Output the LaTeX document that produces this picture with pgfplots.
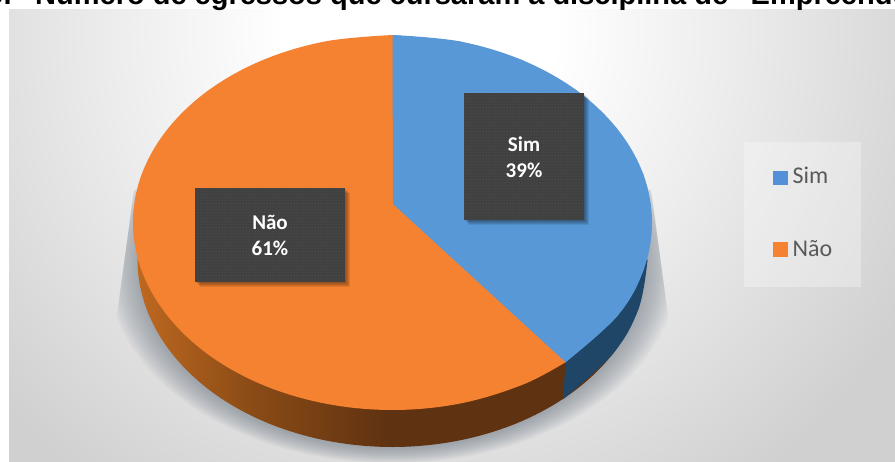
\documentclass[border=0pt]{standalone}
\usepackage{fontspec}
\setmainfont{Liberation Sans}
\newfontfamily\labelfont{Carlito}
\usepackage{pgfplots}
\usepackage{pgfplotstable}
\pgfplotsset{compat=1.18}
\usetikzlibrary{patterns}

\definecolor{simtop}{HTML}{5898D6}
\definecolor{naotop}{HTML}{F58230}
\definecolor{simside}{HTML}{1F4567}
\definecolor{boxdark}{HTML}{404040}
\definecolor{shadowtone}{HTML}{6C7884}
\definecolor{legendtext}{HTML}{595959}
\definecolor{naoS0}{HTML}{BE6820}
\definecolor{naoS1}{HTML}{8C4C16}
\definecolor{naoS2}{HTML}{5F3211}
\definecolor{backA}{HTML}{FFFFFF}
\definecolor{backB}{HTML}{ECECEC}
\definecolor{backC}{HTML}{D0D0D0}

\pgfdeclareradialshading{chartback}{\pgfpointorigin}{%
  color(0bp)=(backA); color(4.8bp)=(backA); color(11.2bp)=(backB);
  color(20bp)=(backC); color(50bp)=(backC)}
\pgfdeclarehorizontalshading{naoside}{100bp}{%
  color(0bp)=(naoS0); color(25bp)=(naoS0); color(36bp)=(naoS1);
  color(50bp)=(naoS2); color(100bp)=(naoS2)}

% Top face of the pie, cut at the 39 % share
\pgfplotstableread{
x y
393.0 204.0
392.5 35.0
459.7 41.4
522.2 60.1
576.0 89.9
617.2 128.8
643.2 174.0
652.0 222.5
643.2 271.0
617.2 316.2
565.6 362.2
}\simwedge
\pgfplotstableread{
x y
392.5 35.0
459.7 41.4
522.2 60.1
576.0 89.9
617.2 128.8
643.2 174.0
652.0 222.5
643.2 271.0
617.2 316.2
565.6 362.2
}\simarc
\pgfplotstableread{
x y
565.6 362.2
522.2 384.9
459.7 403.6
392.5 410.0
325.3 403.6
262.7 384.9
209.0 355.1
167.8 316.2
141.8 271.0
133.0 222.5
141.8 174.0
167.8 128.8
209.0 89.9
262.7 60.1
325.3 41.4
392.5 35.0
}\naoface
% Rim below the top face
\pgfplotstableread{
x y
638.8 308.0
613.3 353.2
572.8 392.1
520.0 421.9
458.5 440.6
392.5 447.0
326.5 440.6
265.0 421.9
212.2 392.1
171.7 353.2
146.2 308.0
137.5 259.5
146.2 211.0
171.7 165.8
}\naorim
\pgfplotstableread{
x y
647.5 259.5
638.8 308.0
613.3 353.2
563.0 399.2
}\simrimarc
\pgfplotstableread{
x y
565.6 362.2
563.0 399.2
613.3 353.2
638.8 308.0
647.5 259.5
600.0 280.0
}\simrim

\begin{document}
\begin{tikzpicture}[x=1pt,y=-1pt]
  \path[use as bounding box,clip] (0,0) rectangle (895,462);

  % chart area
  \begin{scope}
    \clip (9,9.5) rectangle (895,462);
    \shade[shading=chartback] (420,30) circle[radius=700];
  \end{scope}

  % soft shadow under the disc, widening downwards
  \begin{scope}
    \clip (134,190) -- (651,190) -- (670,330) -- (710,462) -- (80,462) -- (115,330) -- cycle;
    \foreach \d in {0,2,...,30}{
      \fill[shadowtone,opacity=0.042] (392.5,262+0.16*\d)
        ellipse[x radius=256+\d, y radius=187+0.32*\d];
    }
  \end{scope}

  % legend panel
  \fill[white,opacity=0.3] (744,142) rectangle (861,287);

  \begin{axis}[
    at={(0,0)},anchor=north west,
    scale only axis,width=895pt,height=462pt,
    xmin=0,xmax=895,ymin=0,ymax=462,y dir=reverse,
    hide axis]
    \addplot[draw=none,shading=naoside,smooth,tension=0.6] table {\naorim};
    \addplot[draw=none,fill=simside,smooth,tension=0.6] table {\simrimarc};
    \addplot[draw=none,fill=simside] table {\simrim};
    \addplot[draw=none,fill=naotop,smooth,tension=0.6] table {\naoface};
    \addplot[draw=none,fill=simtop,smooth,tension=0.6] table {\simarc};
    \addplot[draw=none,fill=simtop] table {\simwedge};
    \addplot[only marks,mark=square*,mark size=6.8pt,color=simtop!95!blue]
      coordinates {(780,177.5)};
    \addplot[only marks,mark=square*,mark size=7pt,color=naotop]
      coordinates {(780,249.5)};
  \end{axis}

  % legend entries
  \node[anchor=base west,inner sep=0,text=legendtext,
        font=\labelfont\fontsize{24}{24}\selectfont] at (792.5,183.5) {Sim};
  \node[anchor=base west,inner sep=0,text=legendtext,
        font=\labelfont\fontsize{24}{24}\selectfont] at (792.5,257) {Não};

  % data labels
  \foreach \xa/\ya/\xb/\yb in {464/93/584/220,195/188/345/282}{
    \foreach \s in {1,2,3,4,5}{
      \fill[black,opacity=0.09] (\xa+\s,\ya+\s) rectangle (\xb+\s,\yb+\s);
    }
    \fill[boxdark] (\xa,\ya) rectangle (\xb,\yb);
    \fill[pattern=dots,pattern color=white,opacity=0.16] (\xa,\ya) rectangle (\xb,\yb);
  }
  \foreach \cx/\yone/\ytwo/\name/\share in {524/152/178/Sim/39\%,270/230/256/Não/61\%}{
    \node[anchor=base,inner sep=0,text=white,
          font=\labelfont\bfseries\fontsize{21}{21}\selectfont] at (\cx,\yone) {\name};
    \node[anchor=base,inner sep=0,text=white,
          font=\labelfont\bfseries\fontsize{21}{21}\selectfont] at (\cx,\ytwo) {\share};
  }

  % heading, running past the page on both sides
  \node[anchor=base east,inner sep=0,font=\bfseries\fontsize{29}{29}\selectfont] at (12,4.5) {9.};
  \node[anchor=base west,inner sep=0,font=\bfseries\fontsize{29}{29}\selectfont] at (35,4.5)
    {Número de egressos que cursaram a disciplina de “Empreendedorismo”};
\end{tikzpicture}
\end{document}
